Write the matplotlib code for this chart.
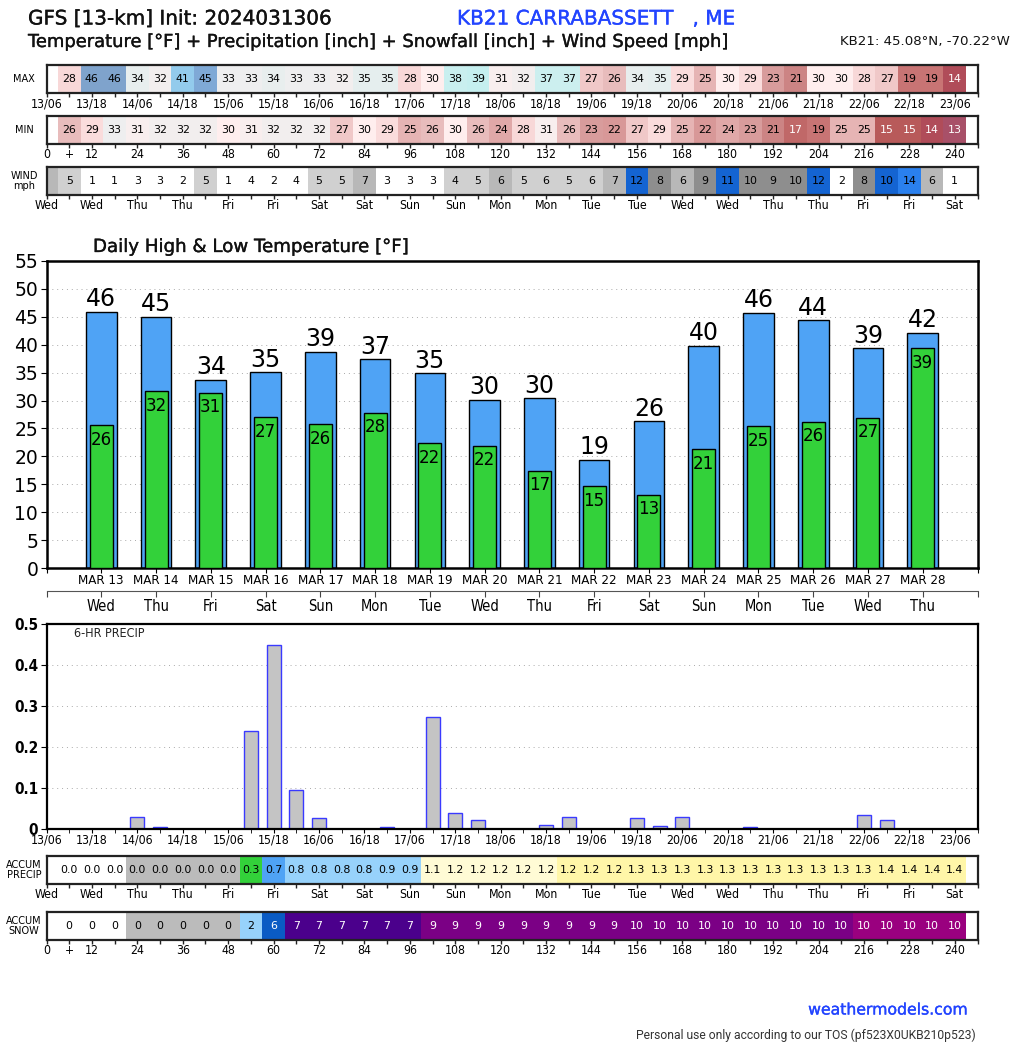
#!/usr/bin/env python3
# plot.py - GFS point forecast meteogram for KB21
import matplotlib
matplotlib.use('Agg')
import matplotlib.pyplot as plt
import matplotlib.patheffects as pe
from matplotlib.colors import LinearSegmentedColormap

FIG_W, FIG_H = 1024, 1044

# strip values, one per 6-hr step from hour 6 to hour 240
hours = list(range(6, 241, 6))
temp_max = [28, 46, 46, 34, 32, 41, 45, 33, 33, 34, 33, 33, 32, 35, 35, 28, 30, 38, 39, 31,
            32, 37, 37, 27, 26, 34, 35, 29, 25, 30, 29, 23, 21, 30, 30, 28, 27, 19, 19, 14]
temp_min = [26, 29, 33, 31, 32, 32, 32, 30, 31, 32, 32, 32, 27, 30, 29, 25, 26, 30, 26, 24,
            28, 31, 26, 23, 22, 27, 29, 25, 22, 24, 23, 21, 17, 19, 25, 25, 15, 15, 14, 13]
wind_f0 = 6.3
wind = [5.0, 1, 1, 3, 3, 2, 5.0, 1, 3.7, 2, 3.7, 5, 5, 7, 3, 3, 3, 4.2, 5, 6.2,
        5, 5.6, 5, 5.6, 7, 12, 8, 6.2, 9, 11, 9.8, 9, 9.8, 12, 2, 8, 10.3, 14, 6.2, 1]
accum_precip = [0.0, 0.0, 0.0, 0.03, 0.03, 0.03, 0.03, 0.03, 0.27, 0.72, 0.82, 0.84, 0.84, 0.84, 0.87, 0.87,
                1.12, 1.16, 1.18, 1.18, 1.18, 1.19, 1.22, 1.22, 1.22, 1.26, 1.27, 1.29, 1.29, 1.29, 1.30,
                1.30, 1.30, 1.30, 1.30, 1.34, 1.36, 1.36, 1.36, 1.36]
accum_snow = [0, 0, 0, 0.3, 0.3, 0.3, 0.3, 0.3, 2, 6, 7, 7, 7, 7, 7, 7, 9, 9, 9, 9, 9, 9, 9, 9, 9,
              9.8, 9.8, 9.8, 9.8, 9.8, 9.8, 9.8, 9.8, 9.8, 9.8, 10.2, 10.2, 10.2, 10.2, 10.2]

# 6-hr precipitation bars
precip_6hr = [0.001, 0.001, 0.001, 0.03, 0.004, 0.001, 0.001, 0.001, 0.24, 0.45, 0.095, 0.027, 0.001, 0.001,
              0.004, 0.001, 0.273, 0.04, 0.022, 0.001, 0.001, 0.01, 0.03, 0.001, 0.001, 0.027, 0.008, 0.03,
              0.001, 0.001, 0.005, 0.001, 0.001, 0.001, 0.001, 0.034, 0.022, 0.001, 0.001, 0.001]

# daily highs and lows
day_names = ['Wed', 'Thu', 'Fri', 'Sat', 'Sun', 'Mon', 'Tue', 'Wed', 'Thu', 'Fri', 'Sat', 'Sun', 'Mon', 'Tue',
             'Wed', 'Thu']
day_dates = ['MAR 13', 'MAR 14', 'MAR 15', 'MAR 16', 'MAR 17', 'MAR 18', 'MAR 19', 'MAR 20', 'MAR 21', 'MAR 22',
             'MAR 23', 'MAR 24', 'MAR 25', 'MAR 26', 'MAR 27', 'MAR 28']
daily_high = [45.9, 45.0, 33.7, 35.1, 38.7, 37.4, 34.9, 30.1, 30.4, 19.4, 26.3, 39.8, 45.7, 44.4, 39.4, 42.1]
daily_low = [25.6, 31.7, 31.4, 27.0, 25.8, 27.8, 22.4, 21.9, 17.4, 14.7, 13.1, 21.3, 25.4, 26.2, 26.9, 39.4]

# tick labels along the strips, one per 12 hours
date_labels = ['13/06', '13/18', '14/06', '14/18', '15/06', '15/18', '16/06', '16/18', '17/06', '17/18', '18/06',
               '18/18', '19/06', '19/18', '20/06', '20/18', '21/06', '21/18', '22/06', '22/18', '23/06']
weekday_labels = ['Wed', 'Wed', 'Thu', 'Thu', 'Fri', 'Fri', 'Sat', 'Sat', 'Sun', 'Sun', 'Mon', 'Mon', 'Tue', 'Tue',
                  'Wed', 'Wed', 'Thu', 'Thu', 'Fri', 'Fri', 'Sat']
hour_labels = ['0', '12', '24', '36', '48', '60', '72', '84', '96', '108', '120', '132', '144', '156', '168', '180',
               '192', '204', '216', '228', '240']

# condensed look for the axis labels
TICK_FONT = dict(fontfamily='DejaVu Sans', fontstretch='condensed')
LEFT, RIGHT = 46.5, 977.5

# temperature colour anchors, read from the strips
TEMP_LOW, TEMP_HIGH = 13, 46
temp_anchors = [(13, '#a85068'), (14, '#b04c58'), (15, '#b85a5a'), (17, '#c06868'), (19, '#c87474'),
                (21, '#cc8484'), (22, '#d89898'), (23, '#d89c9c'), (24, '#e0a8a8'), (25, '#e6b4b4'),
                (26, '#e8bcbc'), (27, '#f0c8c8'), (28, '#f8d8d8'), (29, '#fadcdc'), (30, '#ffeeee'),
                (31, '#f8eeee'), (32, '#f2eeee'), (33, '#eeeeef'), (34, '#e8eeee'), (35, '#e5eeee'),
                (37, '#ccefef'), (39, '#c6efef'), (41, '#93cbec'), (45, '#7fa9d6'), (46, '#7fa3cc')]
temp_cmap = LinearSegmentedColormap.from_list(
    'temp', [((t - TEMP_LOW) / (TEMP_HIGH - TEMP_LOW), c) for t, c in temp_anchors], N=512)


def temp_color(value):
    return temp_cmap((value - TEMP_LOW) / (TEMP_HIGH - TEMP_LOW))


def wind_color(value):
    if value < 4:
        return 'white'
    if value < 6:
        return '#d0d0d0'
    if value < 8:
        return '#b8b8b8'
    if value < 10:
        return '#8e8e8e'
    if value < 14:
        return '#1464d2'
    return '#2a80ee'


def precip_color(value):
    if value < 0.01:
        return 'white'
    if value < 0.1:
        return '#bbbbbb'
    if value < 0.5:
        return '#33d13a'
    if value < 0.75:
        return '#4fa3f5'
    if value < 1.0:
        return '#97d2fb'
    if value < 1.2:
        return '#fffbd5'
    return '#fff6a8'


def snow_color(value):
    if value < 0.1:
        return 'white'
    if value < 1:
        return '#bbbbbb'
    if value < 5:
        return '#97d2fb'
    if value < 7:
        return '#0a5bc4'
    if value < 9:
        return '#4b008c'
    if value < 10:
        return '#7b0085'
    return '#9a007f'


def add_axes_px(fig, left, top, right, bottom):
    """Axes placed with pixel edges measured from the top left of the figure."""
    return fig.add_axes([left / FIG_W, 1 - bottom / FIG_H, (right - left) / FIG_W, (bottom - top) / FIG_H])


def fig_text(fig, x, y, text, heavy=False, **kwargs):
    kwargs.setdefault('va', 'center')
    t = fig.text(x / FIG_W, 1 - y / FIG_H, text, **kwargs)
    if heavy:
        t.set_path_effects([pe.withStroke(linewidth=0.25, foreground=kwargs.get('color', 'black'))])
    return t


def draw_strip(fig, top, values, colors, labels, tick_labels, plus=False, white_if=None):
    ax = add_axes_px(fig, LEFT, top, RIGHT, top + 28)
    ax.bar(hours, [1] * len(hours), width=6, color=colors, linewidth=0)
    for hour, value, label in zip(hours, values, labels):
        text_color = 'white' if white_if is not None and white_if(value) else 'black'
        ax.text(hour, 0.5, label, ha='center', va='center', fontsize=7.9, color=text_color)
    ax.set_xlim(0, 246)
    ax.set_ylim(0, 1)
    ax.set_yticks([])
    ticks = list(range(0, 246, 12))
    labels_out = list(tick_labels)
    if plus:
        ticks.insert(1, 6)
        labels_out.insert(1, '+')
    ax.set_xticks(ticks)
    ax.set_xticklabels(labels_out, fontsize=8.8, **TICK_FONT)
    ax.set_xticks(range(18 if plus else 6, 247, 12), minor=True)
    ax.tick_params(axis='x', which='both', length=3, width=1, pad=0, color='#222222')
    for spine in ax.spines.values():
        spine.set_linewidth(1.6)
        spine.set_color('#222222')
    return ax


fig = plt.figure(figsize=(FIG_W / 100, FIG_H / 100), dpi=100, facecolor='white')

# header
blue = '#2244ff'
fig_text(fig, 28, 19, 'GFS [13-km] Init: 2024031306', heavy=True, fontsize=14.4, color='#111111')
fig_text(fig, 457, 19, 'KB21 CARRABASSETT   , ME', heavy=True, fontsize=14.4, color=blue)
fig_text(fig, 28, 42, 'Temperature [°F] + Precipitation [inch] + Snowfall [inch] + Wind Speed [mph]', heavy=True,
         fontsize=12.9, color='#111111')
fig_text(fig, 840, 42, 'KB21: 45.08°N, -70.22°W', fontsize=9.65, color='#111111')

# top strips
str_max = [str(v) for v in temp_max]
str_min = [str(v) for v in temp_min]
is_cold = lambda v: v < 18
draw_strip(fig, 65, temp_max, [temp_color(v) for v in temp_max], str_max, date_labels, white_if=is_cold)
draw_strip(fig, 116, temp_min, [temp_color(v) for v in temp_min], str_min, hour_labels, plus=True, white_if=is_cold)
wind_ax = draw_strip(fig, 167, wind, [wind_color(v) for v in wind], [str(round(v)) for v in wind], weekday_labels)
wind_ax.bar([0], [1], width=6, color=wind_color(wind_f0), linewidth=0)
fig_text(fig, 24, 79, 'MAX', fontsize=7, ha='center')
fig_text(fig, 24, 130, 'MIN', fontsize=7, ha='center')
fig_text(fig, 24, 181, 'WIND\nmph', fontsize=7, ha='center', linespacing=1.0)

# daily high and low panel
days = list(range(1, len(daily_high) + 1))
ax = add_axes_px(fig, LEFT, 261, RIGHT, 568)
ax.bar(days, daily_high, width=0.56, color='#4fa3f5', edgecolor='black', linewidth=1, zorder=2)
ax.bar(days, daily_low, width=0.42, color='#33d13a', edgecolor='black', linewidth=1, zorder=3)
for day, high, low in zip(days, daily_high, daily_low):
    ax.text(day, high + 0.1, str(round(high)), ha='center', va='bottom', fontsize=17, zorder=4)
    ax.text(day, low - 1.0, str(round(low)), ha='center', va='top', fontsize=12, zorder=4)
ax.set_xlim(0, 17)
ax.set_ylim(0, 55)
ax.set_yticks(range(0, 56, 5))
ax.tick_params(axis='y', labelsize=13.5, length=4, pad=2)
ax.yaxis.grid(True, linestyle=(0, (1, 4)), linewidth=0.7, color='#aaaaaa', zorder=0)
ax.set_axisbelow(True)
ax.set_xticks(range(0, 18))
ax.set_xticklabels([''] + day_dates + [''], fontsize=9.5, **TICK_FONT)
ax.tick_params(axis='x', length=3.5, pad=1)
for spine in ax.spines.values():
    spine.set_linewidth(1.8)
sec = ax.secondary_xaxis(-23 / 307)
sec.set_xticks(range(0, 18))
sec.set_xticklabels([''] + day_names + [''], fontsize=10.5, **TICK_FONT)
sec.tick_params(axis='x', length=4, pad=2, color='#444444')
sec.spines['bottom'].set_color('#555555')
fig_text(fig, 93, 247, 'Daily High & Low Temperature [°F]', heavy=True, fontsize=13.1, color='#111111')

# 6-hr precipitation panel
ax = add_axes_px(fig, LEFT, 624, RIGHT, 829)
ax.bar(hours, precip_6hr, width=3.7, color='#c4c4c4', edgecolor='#3a3aff', linewidth=1, zorder=2)
ax.set_xlim(0, 246)
ax.set_ylim(0, 0.5)
ax.set_yticks([0, 0.1, 0.2, 0.3, 0.4, 0.5])
ax.set_yticklabels(['0', '0.1', '0.2', '0.3', '0.4', '0.5'], fontsize=11, fontweight='bold', **TICK_FONT)
ax.tick_params(axis='y', length=4, pad=2)
ax.yaxis.grid(True, linestyle=(0, (1, 4)), linewidth=0.7, color='#aaaaaa', zorder=0)
ax.set_axisbelow(True)
ax.set_xticks(range(0, 246, 12))
ax.set_xticklabels(date_labels, fontsize=8.8, **TICK_FONT)
ax.set_xticks(range(6, 247, 12), minor=True)
ax.tick_params(axis='x', which='both', length=3, pad=0)
for spine in ax.spines.values():
    spine.set_linewidth(1.6)
ax.text(7.3, 0.478, '6-HR PRECIP', fontsize=9, va='center', color='#222222', **TICK_FONT)

# accumulation strips
draw_strip(fig, 856, accum_precip, [precip_color(v) for v in accum_precip], [f'{v:.1f}' for v in accum_precip],
           weekday_labels)
draw_strip(fig, 912, accum_snow, [snow_color(v) for v in accum_snow], [str(round(v)) for v in accum_snow],
           hour_labels, plus=True, white_if=lambda v: v >= 5)
fig_text(fig, 24, 870, 'ACCUM\nPRECIP', fontsize=7, ha='center', linespacing=1.0)
fig_text(fig, 24, 926, 'ACCUM\nSNOW', fontsize=7, ha='center', linespacing=1.0)

# footer
fig_text(fig, 968, 1010, 'weathermodels.com', heavy=True, fontsize=11.3, color=blue, ha='right')
fig_text(fig, 976, 1035, 'Personal use only according to our TOS (pf523X0UKB210p523)', fontsize=8.7,
         fontfamily='Roboto', color='#333333', ha='right')

fig.savefig('out.png', dpi=100, facecolor='white')
